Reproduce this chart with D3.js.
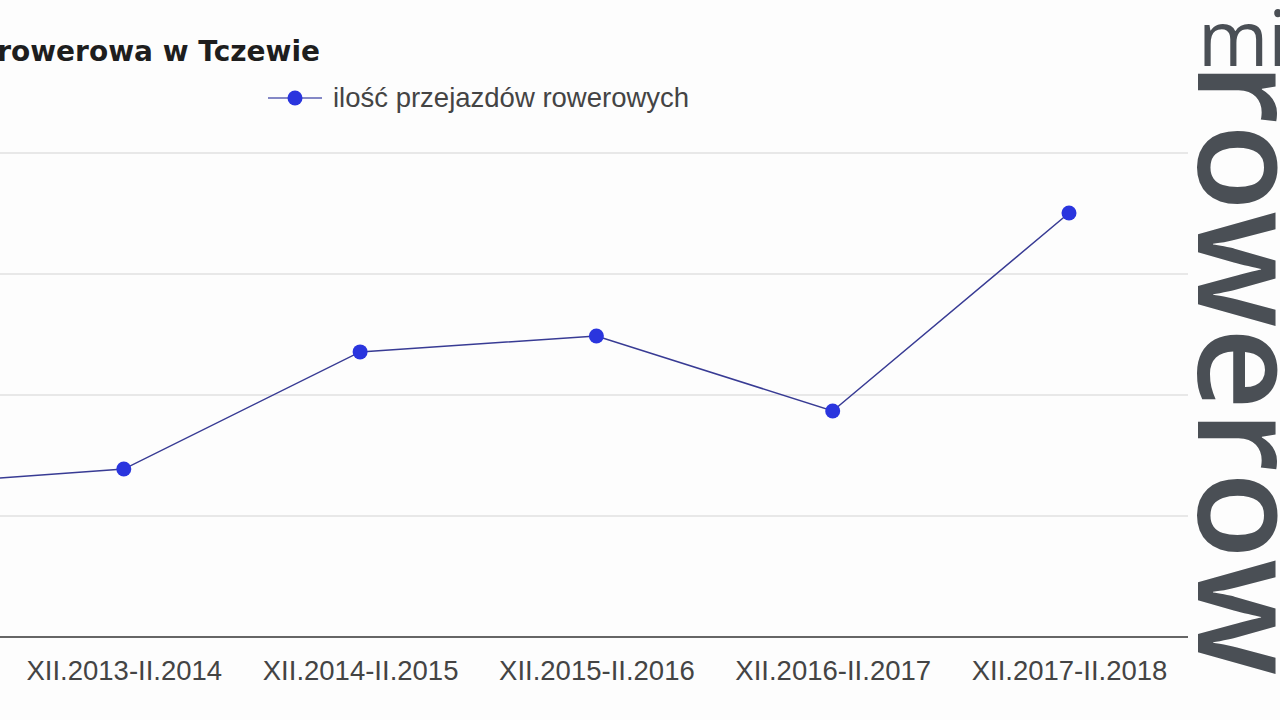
<!DOCTYPE html>
<html>
<head>
<meta charset="utf-8">
<script src="https://cdn.jsdelivr.net/npm/d3@7"></script>
<style>
	html, body { margin: 0; padding: 0; background: #fdfdfd; overflow: hidden; }
	svg { display: block; }
</style>
</head>
<body>
<svg id="chart" width="1280" height="720"></svg>
<script>
const categories = ['XII.2012-II.2013', 'XII.2013-II.2014', 'XII.2014-II.2015', 'XII.2015-II.2016', 'XII.2016-II.2017', 'XII.2017-II.2018'];
const values = [6240, 6940, 11780, 12440, 9340, 17520];
const yTicks = [0, 5000, 10000, 15000, 20000];
const seriesName = 'ilość przejazdów rowerowych';
const title = 'Zimowa komunikacja rowerowa w Tczewie';

const svg = d3.select('#chart');
const plot = { left: -230, right: 1188, top: 153, bottom: 637 };

// first category sits off the left edge, like the cropped screenshot
const x = d3.scalePoint().domain(categories).range([-112.5, 1069]);
const y = d3.scaleLinear().domain([0, 20000]).range([plot.bottom, plot.top]);

// grid
svg.append('g').selectAll('line')
	.data(yTicks.filter(t => t > 0)).enter().append('line')
	.attr('x1', plot.left).attr('x2', plot.right)
	.attr('y1', d => y(d)).attr('y2', d => y(d))
	.attr('stroke', '#d4d4d4').attr('stroke-width', 1.2);

// baseline
svg.append('line')
	.attr('x1', plot.left).attr('x2', plot.right)
	.attr('y1', y(0)).attr('y2', y(0))
	.attr('stroke', '#333').attr('stroke-width', 1.6);

// x axis labels
const xAxis = d3.axisBottom(x).tickSize(0).tickPadding(0);
const gx = svg.append('g').attr('transform', `translate(0,${y(0)})`).call(xAxis);
gx.select('.domain').remove();
gx.selectAll('text')
	.attr('y', 43).attr('dy', 0)
	.attr('fill', '#444')
	.style('font-family', 'Arial, "Liberation Sans", sans-serif')
	.style('font-size', '27.5px');

// line + points
const line = d3.line().x((d, i) => x(categories[i])).y(d => y(d));
svg.append('path').datum(values)
	.attr('d', line).attr('fill', 'none')
	.attr('stroke', '#383b94').attr('stroke-width', 1.5);
svg.append('g').selectAll('circle')
	.data(values).enter().append('circle')
	.attr('cx', (d, i) => x(categories[i])).attr('cy', d => y(d))
	.attr('r', 7.5).attr('fill', '#2a35de');

// title
svg.append('text')
	.attr('x', 320).attr('y', 61)
	.attr('text-anchor', 'end')
	.attr('fill', '#1e1e1e')
	.style('font-family', '"DejaVu Sans", Verdana, sans-serif')
	.style('font-weight', 'bold')
	.style('font-size', '28px')
	.text(title);

// legend
const lg = svg.append('g');
lg.append('line').attr('x1', 268).attr('x2', 322).attr('y1', 98).attr('y2', 98)
	.attr('stroke', '#8488c6').attr('stroke-width', 2);
lg.append('circle').attr('cx', 295).attr('cy', 98).attr('r', 7.5).attr('fill', '#2a35de');
lg.append('text').attr('x', 333).attr('y', 107)
	.attr('fill', '#444')
	.style('font-family', 'Arial, "Liberation Sans", sans-serif')
	.style('font-size', '27.5px')
	.text(seriesName);

// watermark logo on the right
svg.append('rect').attr('x', 1190).attr('y', 0).attr('width', 90).attr('height', 720).attr('fill', '#fdfdfd');
svg.append('text')
	.attr('x', 1198).attr('y', 66)
	.attr('fill', '#4a4f55')
	.style('font-family', '"Open Sans", sans-serif')
	.style('font-size', '76px')
	.text('miasto');
svg.append('text')
	.attr('transform', 'translate(1198,62) rotate(90)')
	.attr('fill', '#4a4f55')
	.style('font-family', '"Open Sans", sans-serif')
	.style('font-weight', 600)
	.style('font-size', '143px')
	.text('rowerow');
</script>
</body>
</html>
